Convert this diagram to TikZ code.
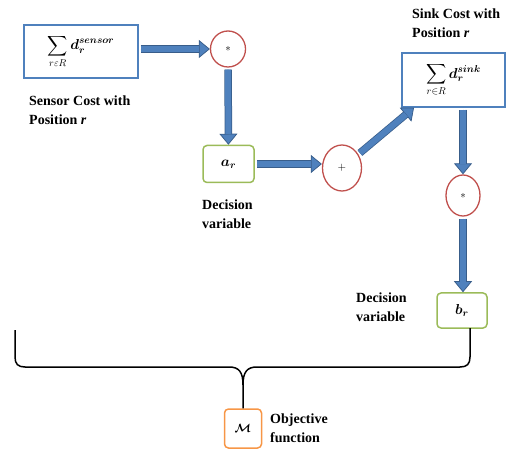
\documentclass[tikz,border=0pt]{standalone}
\usepackage{amsmath,amssymb,bm}
\usepackage{fontspec}
\setmainfont{Liberation Serif}
\usepackage{xcolor}
\usetikzlibrary{arrows.meta,shapes.geometric}

\definecolor{boxblue}{HTML}{4F81BD}
\definecolor{arrowface}{HTML}{4F81BD}
\definecolor{arrowedge}{HTML}{385D8A}
\definecolor{opred}{HTML}{C0504D}
\definecolor{vargreen}{HTML}{9BBB59}
\definecolor{objorange}{HTML}{F79646}

\begin{document}
\begin{tikzpicture}[x=1pt, y=-1pt,
  costbox/.style={draw=boxblue, line width=1.3pt, inner sep=0pt,
    minimum width=103pt, minimum height=54pt, font=\fontsize{14}{19}\selectfont},
  opnode/.style={ellipse, draw=opred, line width=1.3pt, inner sep=0pt,
    font=\fontsize{11}{12}\selectfont},
  varbox/.style={draw=vargreen, line width=1.5pt, rounded corners=4pt,
    minimum width=51pt, minimum height=37pt, font=\fontsize{14}{19}\selectfont},
  lbl/.style={anchor=north west, align=left, inner sep=0pt,
    font=\fontsize{14}{19}\selectfont\bfseries},
  fat/.style={draw=arrowedge, line width=0.75pt, shorten <=2pt,
    -{Triangle[width=18pt,length=11pt,fill=arrowface]},
    postaction={draw=arrowedge, double=arrowface, double distance=6pt,
      arrows=-, shorten >=10.5pt}},
  brace/.style={line width=1.5pt}]

  \useasboundingbox (0,0) rectangle (509,449);

  % cost boxes
  \node[costbox, minimum width=114pt, minimum height=53pt] (sensor) at (81,51.5) {$\displaystyle\sum_{r\varepsilon R} \bm{d}_{\bm{r}}^{\bm{sensor}}$};
  \node[costbox] (sink) at (453.5,80) {$\displaystyle\sum_{r\in R} \bm{d}_{\bm{r}}^{\bm{sink}}$};

  % operators
  \node[opnode, minimum width=35pt, minimum height=36pt] (mulA) at (228,49) {$*$};
  \node[opnode, minimum width=39pt, minimum height=46pt] (plus) at (342,168) {$+$};
  \node[opnode, minimum width=34pt, minimum height=41pt] (mulB) at (463,195.5) {$*$};

  % decision variables and objective
  \node[varbox] (ar) at (228.5,164) {$\bm{a_r}$};
  \node[varbox, minimum width=50pt, minimum height=35pt] (br) at (462,310.5) {$\bm{b_r}$};
  \node[draw=objorange, line width=1.5pt, rounded corners=4pt,
    minimum width=37pt, minimum height=39pt, font=\fontsize{12}{14}\selectfont]
    (mobj) at (243,428.5) {$\bm{\mathcal{M}}$};

  % labels
  \node[lbl] (sensorlbl) at (29,96) {Sensor Cost with\\Position \textit{r}};
  \node[lbl] (sinklbl) at (412,8.5) {Sink Cost with\\Position \textit{r}};
  \node[lbl] (arlbl) at (202,199.5) {Decision\\variable};
  \node[lbl] (brlbl) at (356,292.5) {Decision\\variable};
  \node[lbl] (objlbl) at (270,413.5) {Objective\\function};

  % block arrows
  \draw[fat] (sensor.east |- mulA.west) -- (mulA.west);
  \draw[fat] (mulA) -- (ar);
  \draw[fat] (ar.east) -- (ar.east -| plus.west);
  \draw[fat] (plus) -- (sink.215);
  \draw[fat] (sink.south -| mulB.north) -- (mulB.north);
  \draw[fat] (mulB) -- (mulB |- br.north);

  % brace
  \draw[brace] (mobj.north) -- (243,385)
    .. controls (243,372) and (239,367) .. (229,367) -- (25,367)
    .. controls (18,367) and (15,364) .. (15,357) -- (15,330);
  \draw[brace] (243,385)
    .. controls (243,372) and (247,367) .. (257,367) -- (460,367)
    .. controls (467,367) and (470,364) .. (470,357) -- (470,328);

\end{tikzpicture}
\end{document}
